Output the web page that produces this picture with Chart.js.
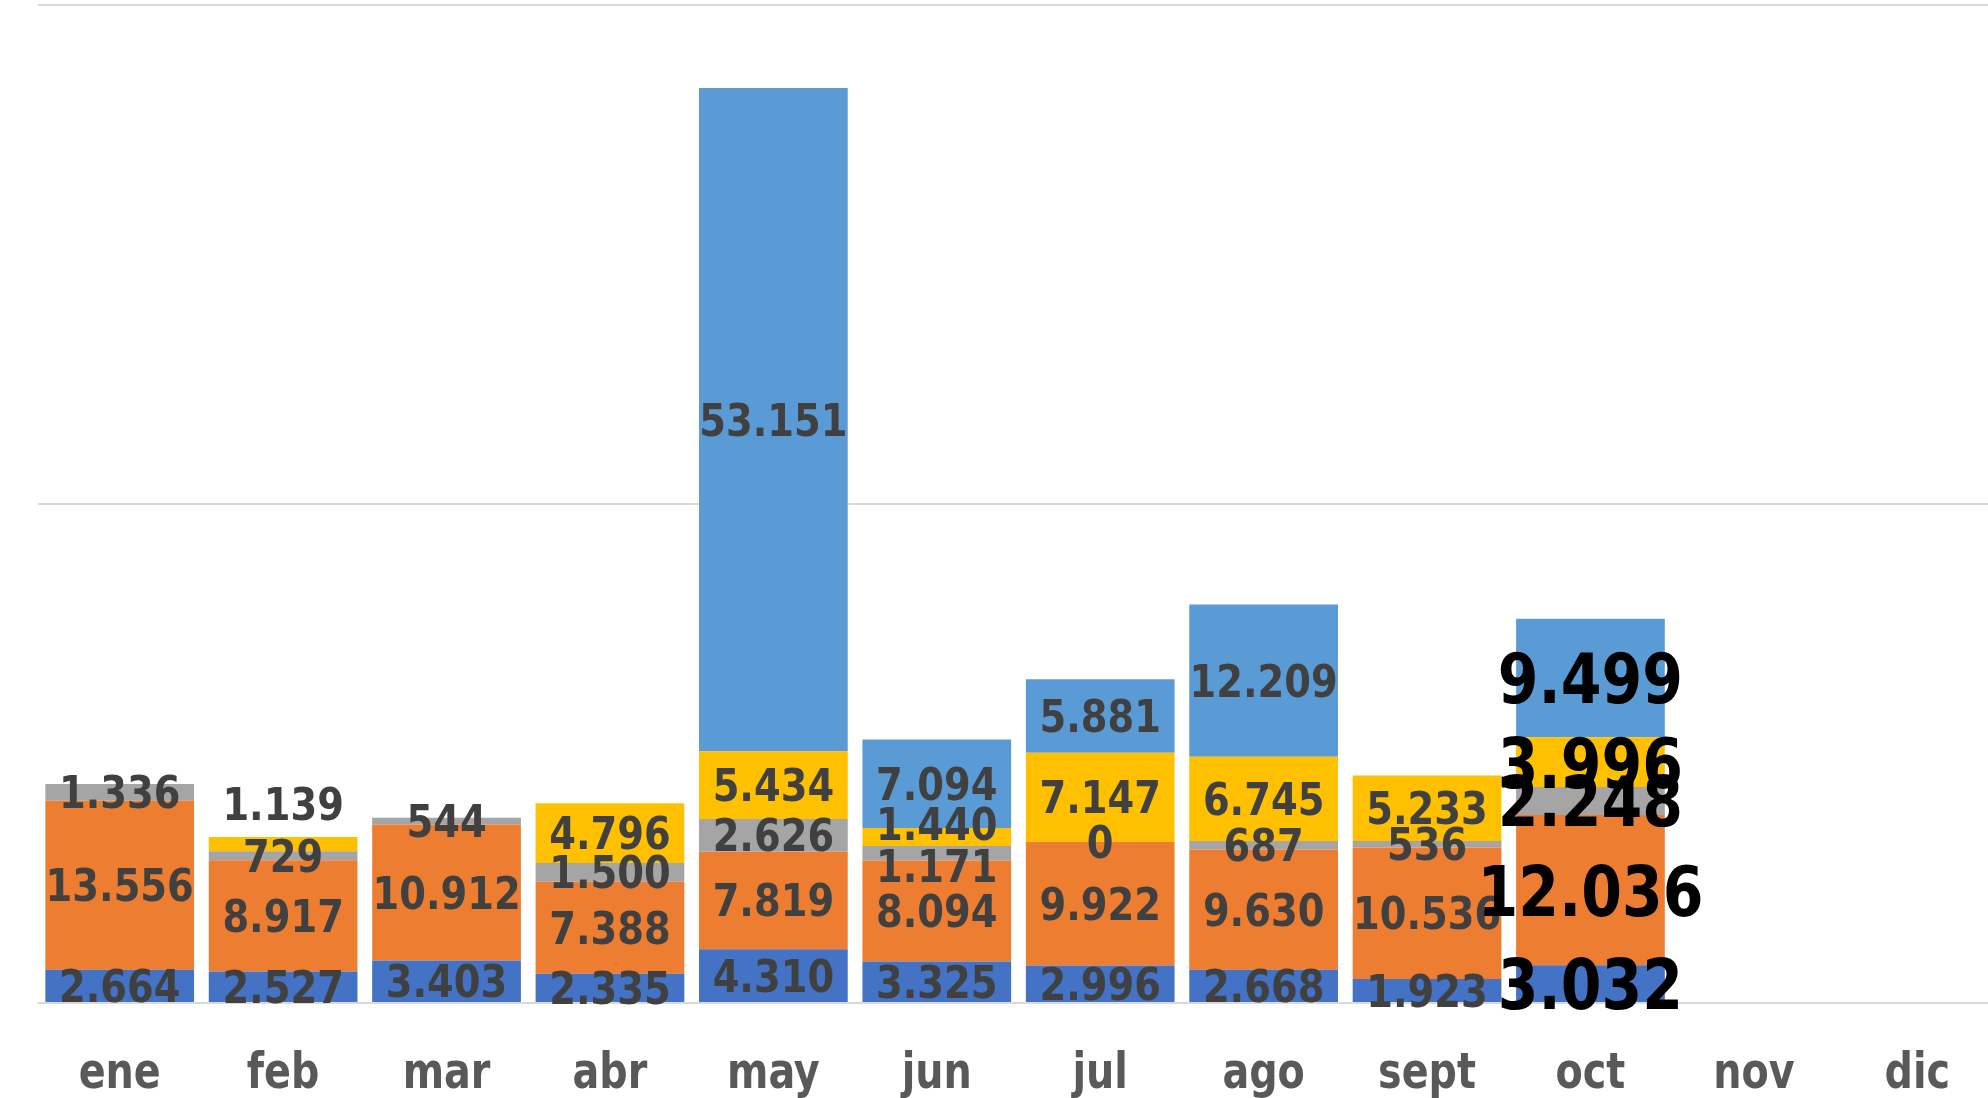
<!DOCTYPE html>
<html>
<head>
<meta charset="utf-8">
<script src="https://cdn.jsdelivr.net/npm/chart.js@4/dist/chart.umd.min.js"></script>
<style>
  html, body { margin: 0; padding: 0; background: #ffffff; overflow: hidden; }
  canvas { display: block; }
</style>
</head>
<body>
<canvas id="grafico" width="1999" height="1098"></canvas>
<script>
// Datos
const meses = ['ene', 'feb', 'mar', 'abr', 'may', 'jun', 'jul', 'ago', 'sept', 'oct', 'nov', 'dic'];
const serie1 = [2664, 2527, 3403, 2335, 4310, 3325, 2996, 2668, 1923, 3032, null, null];
const serie2 = [13556, 8917, 10912, 7388, 7819, 8094, 9922, 9630, 10536, 12036, null, null];
const serie3 = [1336, 729, 544, 1500, 2626, 1171, 0, 687, 536, 2248, null, null];
const serie4 = [null, 1139, null, 4796, 5434, 1440, 7147, 6745, 5233, 3996, null, null];
const serie5 = [null, null, null, null, 53151, 7094, 5881, 12209, null, 9499, null, null];
const marcasY = [0, 40000, 80000];

const colores = ['#4472C4', '#ED7D31', '#A5A5A5', '#FFC000', '#5B9BD5'];
const fuente = "'DejaVu Sans Condensed', 'DejaVu Sans', sans-serif";

// Formato con punto de miles
function formato(v) {
    return String(v).replace(/\B(?=(\d{3})+(?!\d))/g, '.');
}

// Texto algo estrecho (la fuente original es más condensada)
function textoEstrecho(ctx, txt, x, y, escala) {
    ctx.save();
    ctx.translate(x, y);
    ctx.scale(escala, 1);
    ctx.fillText(txt, 0, 0);
    ctx.restore();
}

// Pequeños ajustes de etiquetas (índice mes - índice serie), en px
const ajusteEtiqueta = { '1-3': -40, '5-3': -13, '5-2': 13 };

// Etiquetas de datos centradas en cada segmento + etiquetas de meses
const etiquetas = {
    id: 'etiquetas',
    afterDatasetsDraw(chart) {
        const ctx = chart.ctx;
        ctx.save();
        ctx.textAlign = 'center';
        ctx.textBaseline = 'alphabetic';
        chart.data.datasets.forEach((ds, d) => {
            const meta = chart.getDatasetMeta(d);
            meta.data.forEach((bar, i) => {
                const v = ds.data[i];
                if (v === null || v === undefined) return;
                const grande = meses[i] === 'oct';
                const tam = grande ? 70 : 44;
                ctx.font = 'bold ' + tam + 'px ' + fuente;
                ctx.fillStyle = grande ? '#000000' : '#404040';
                const y = (bar.y + bar.base) / 2 + (ajusteEtiqueta[i + '-' + d] || 0) + tam * 0.364;
                textoEstrecho(ctx, formato(v), bar.x, y, grande ? 0.93 : 0.97);
            });
        });
        // meses
        const xs = chart.scales.x;
        ctx.font = 'bold 49px ' + fuente;
        ctx.fillStyle = '#595959';
        meses.forEach((m, i) => {
            textoEstrecho(ctx, m, xs.getPixelForValue(i), chart.chartArea.bottom + 85, 0.9);
        });
        ctx.restore();
    }
};

const series = [serie1, serie2, serie3, serie4, serie5];

const grafico = new Chart(document.getElementById('grafico').getContext('2d'), {
    type: 'bar',
    data: {
        labels: meses,
        datasets: series.map((s, k) => ({
            label: 'Serie ' + (k + 1),
            data: s,
            backgroundColor: colores[k],
            borderWidth: 0,
            categoryPercentage: 0.91,
            barPercentage: 1.0
        }))
    },
    options: {
        responsive: false,
        animation: false,
        layout: { padding: { left: 38, right: 0, top: 5, bottom: 0 } },
        plugins: {
            legend: { display: false },
            tooltip: { enabled: false }
        },
        scales: {
            x: {
                stacked: true,
                grid: { display: false, drawTicks: false },
                border: { display: false },
                ticks: { display: false },
                afterFit: axis => { axis.height = 95; }
            },
            y: {
                stacked: true,
                min: 0,
                max: 80000,
                afterBuildTicks: axis => { axis.ticks = marcasY.map(v => ({ value: v })); },
                grid: { color: '#D9D9D9', lineWidth: 2, drawTicks: false },
                border: { display: false },
                ticks: { display: false }
            }
        }
    },
    plugins: [etiquetas]
});
</script>
</body>
</html>
